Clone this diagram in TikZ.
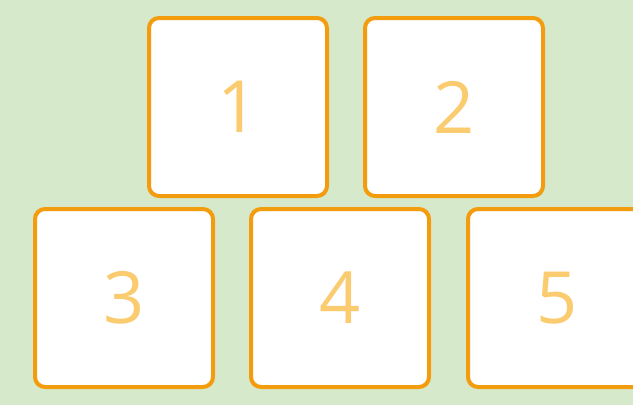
\documentclass[tikz,border=0pt]{standalone}
\usepackage{fontspec}
\setmainfont{Open Sans}
\definecolor{bg}{HTML}{D6EACB}
\definecolor{edge}{HTML}{F39C0E}
\definecolor{num}{HTML}{FBCB70}
\tikzset{
  card/.style={draw=edge, fill=white, line width=4pt, rounded corners=10pt,
    minimum width=178pt, minimum height=178pt, inner sep=0pt,
    text=num, font=\fontsize{72}{72}\selectfont}
}
\begin{document}
\begin{tikzpicture}[x=1pt,y=-1pt]
\useasboundingbox (0,0) rectangle (633,405);
\clip (0,0) rectangle (633,405);
\fill[bg] (0,0) rectangle (633,405);
\node[card] (n1) at (238,107) {1};
\node[card] (n2) at (454,107) {2};
\node[card] (n3) at (124,298) {3};
\node[card] (n4) at (340,298) {4};
\node[card] (n5) at (557,298) {5};
\end{tikzpicture}
\end{document}
